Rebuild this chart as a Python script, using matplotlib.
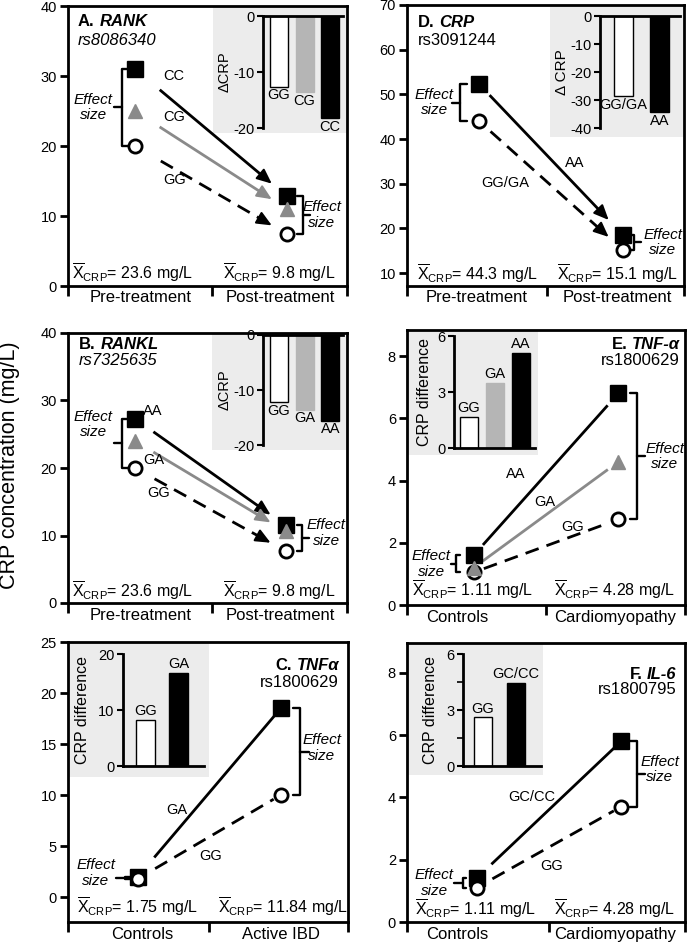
import numpy as np
import matplotlib
matplotlib.use('Agg')
import matplotlib.pyplot as plt
from matplotlib.patches import Rectangle

plt.rcParams['font.family'] = ['Liberation Sans', 'DejaVu Sans']
plt.rcParams['mathtext.fontset'] = 'custom'
plt.rcParams['mathtext.rm'] = 'Liberation Sans'
plt.rcParams['mathtext.it'] = 'Liberation Sans:italic'
plt.rcParams['mathtext.bf'] = 'Liberation Sans:bold'
plt.rcParams['axes.unicode_minus'] = False

W, H = 693, 946

# ---------------- data ----------------
# A. RANK rs8086340
A_groups = ['CC', 'CG', 'GG']
A_pre = [31.0, 25.0, 20.0]
A_post = [12.8, 11.0, 7.4]
A_bar_groups = ['GG', 'CG', 'CC']
A_bar_vals = [-12.6, -13.6, -18.3]
A_means = ['23.6', '9.8']

# B. RANKL rs7325635
B_groups = ['AA', 'GA', 'GG']
B_pre = [27.3, 24.0, 20.0]
B_post = [11.5, 10.6, 7.7]
B_bar_groups = ['GG', 'GA', 'AA']
B_bar_vals = [-12.2, -13.6, -15.6]
B_means = ['23.6', '9.8']

# D. CRP rs3091244
D_groups = ['AA', 'GG/GA']
D_pre = [52.3, 44.0]
D_post = [18.5, 15.2]
D_bar_groups = ['GG/GA', 'AA']
D_bar_vals = [-28.6, -34.3]
D_means = ['44.3', '15.1']

# E. TNF-a rs1800629 (cardiomyopathy)
E_groups = ['AA', 'GA', 'GG']
E_ctrl = [1.6, 1.2, 1.05]
E_case = [6.8, 4.6, 2.75]
E_bar_groups = ['GG', 'GA', 'AA']
E_bar_vals = [1.66, 3.48, 5.08]
E_means = ['1.11', '4.28']

# C. TNFa rs1800629 (IBD)
C_groups = ['GA', 'GG']
C_ctrl = [2.0, 1.8]
C_case = [18.5, 10.0]
C_bar_groups = ['GG', 'GA']
C_bar_vals = [8.2, 16.6]
C_means = ['1.75', '11.84']

# F. IL-6 rs1800795
F_groups = ['GC/CC', 'GG']
F_ctrl = [1.4, 1.1]
F_case = [5.8, 3.7]
F_bar_groups = ['GG', 'GC/CC']
F_bar_vals = [2.6, 4.45]
F_means = ['1.11', '4.28']

treat_cats = ['Pre-treatment', 'Post-treatment']
cardio_cats = ['Controls', 'Cardiomyopathy']
ibd_cats = ['Controls', 'Active IBD']

GRAY = '#8a8a8a'
LIGHT = '#b5b5b5'
BG = '#ececec'

fig = plt.figure(figsize=(W / 100, H / 100), dpi=100)


def styles(n):
    top = dict(marker='s', mfc='black', mec='black', ms=11, mew=1, color='black', ls='-', z=3)
    mid = dict(marker='^', mfc=GRAY, mec=GRAY, ms=10, mew=1, color=GRAY, ls='-', z=5)
    low = dict(marker='o', mfc='white', mec='black', ms=9.5, mew=2, color='black', ls=(0, (5, 3)), z=4)
    return [top, mid, low] if n == 3 else [top, low]


def main_axes(px, ylim, yticks, div, cats, cat_x):
    l, t, r, b = px
    ax = fig.add_axes([l / W, 1 - b / H, (r - l) / W, (b - t) / H])
    ax.set_xlim(0, 1)
    ax.set_ylim(*ylim)
    ax.set_yticks(yticks)
    ax.set_xticks([0, div, 1])
    ax.set_xticklabels([])
    for s in ax.spines.values():
        s.set_linewidth(2)
    ax.tick_params(axis='y', length=6, width=2, labelsize=10.5, pad=2)
    ax.tick_params(axis='x', length=7, width=2)
    for c, x in zip(cats, cat_x):
        ax.text(x, -12 / (b - t), c, transform=ax.transAxes, ha='center',
                va='center', fontsize=12)
    return ax


def trends(ax, xa, xb, ya_list, yb_list, f0, f1, arrow):
    sts = styles(len(ya_list))
    for ya, yb, st in zip(ya_list, yb_list, sts):
        dx, dy = xb - xa, yb - ya
        if arrow:
            ax.plot([xa + f0 * dx, xa + (f1 - 0.04) * dx], [ya + f0 * dy, ya + (f1 - 0.04) * dy],
                    color=st['color'], ls=st['ls'], lw=2, zorder=2)
            ax.annotate('', xy=(xa + f1 * dx, ya + f1 * dy),
                        xytext=(xa + (f1 - 0.07) * dx, ya + (f1 - 0.07) * dy),
                        arrowprops=dict(arrowstyle='-|>,head_length=0.75,head_width=0.33',
                                        color=st['color'], lw=1.5, shrinkA=0, shrinkB=0,
                                        mutation_scale=12), zorder=2)
        else:
            ax.plot([xa + f0 * dx, xa + f1 * dx], [ya + f0 * dy, ya + f1 * dy],
                    color=st['color'], ls=st['ls'], lw=2, zorder=2)
    for ya, yb, st in zip(ya_list, yb_list, sts):
        ax.plot([xa, xb], [ya, yb], ls='none', marker=st['marker'], mfc=st['mfc'],
                mec=st['mec'], ms=st['ms'], mew=st['mew'], zorder=st['z'], clip_on=False)


def glabels(ax, groups, pos, ha='left'):
    for g, (x, y) in zip(groups, pos):
        ax.text(x, y, g, ha=ha, va='center', fontsize=10.5,
                transform=ax.get_yaxis_transform(), zorder=6)


def bracket(ax, xb, y1, y2, d, nub, tx, dy=0.0):
    tr = ax.get_yaxis_transform()
    ax.plot([xb + d, xb, xb, xb + d], [y1, y1, y2, y2], transform=tr, color='black',
            lw=1.7, solid_joinstyle='round', solid_capstyle='round', zorder=2)
    ym = (y1 + y2) / 2
    ax.plot([xb, xb - np.sign(d) * nub], [ym, ym], transform=tr, color='black',
            lw=1.7, solid_capstyle='round', zorder=2)
    ax.text(tx, ym + dy, 'Effect\nsize', transform=tr, ha='center', va='center',
            style='italic', fontsize=11, linespacing=1.15)


def means(ax, vals, xs, y):
    for v, x in zip(vals, xs):
        ax.text(x, y, r'$\overline{\mathrm{X}}_{\mathrm{CRP}}$= ' + v + ' mg/L',
                transform=ax.transAxes, fontsize=11.5, va='center', ha='left')


def title_left(ax, x, y, y2, letter, gene, rs, rs_style):
    t1 = ax.text(x, y, letter, transform=ax.transAxes, fontsize=12,
                 fontweight='bold', va='top', ha='left')
    ax.annotate(gene, xy=(1, 1), xycoords=t1, xytext=(3.5, 0), textcoords='offset points',
                fontsize=12, fontweight='bold', style='italic', va='top', ha='left')
    ax.text(x, y2, rs, transform=ax.transAxes, fontsize=12, style=rs_style,
            va='top', ha='left')


def title_right(ax, x, y, y2, letter, gene, rs):
    t2 = ax.text(x, y, gene, transform=ax.transAxes, fontsize=12, fontweight='bold',
                 style='italic', va='top', ha='right')
    ax.annotate(letter, xy=(0, 1), xycoords=t2, xytext=(-3.5, 0), textcoords='offset points',
                fontsize=12, fontweight='bold', va='top', ha='right')
    ax.text(x, y2, rs, transform=ax.transAxes, fontsize=12, va='top', ha='right')


def inset(ax, panel, bg, box, labels, vals, ylim, yticks, xlim, width, ylabel,
          ylabel_size, label_x, minor=None):
    l, t, r, b = panel
    bl, bt, br, bb = bg
    ax.add_patch(Rectangle(((bl - l) / (r - l), (b - bb) / (b - t)),
                           (br - bl) / (r - l), (bb - bt) / (b - t),
                           transform=ax.transAxes, facecolor=BG, edgecolor='none',
                           zorder=0.5))
    il, it, ir, ib = box
    iax = fig.add_axes([il / W, 1 - ib / H, (ir - il) / W, (ib - it) / H])
    iax.set_facecolor('none')
    n = len(vals)
    faces = ['white', LIGHT, 'black'] if n == 3 else ['white', 'black']
    edges = ['black', LIGHT, 'black'] if n == 3 else ['black', 'black']
    iax.bar(range(n), vals, width=width, color=faces, edgecolor=edges, linewidth=1)
    iax.set_xlim(*xlim)
    iax.set_ylim(*ylim)
    iax.set_yticks(yticks)
    if minor is not None:
        iax.set_yticks(minor, minor=True)
    iax.set_xticks([])
    neg = vals[0] < 0
    iax.spines['right'].set_visible(False)
    iax.spines['bottom' if neg else 'top'].set_visible(False)
    for s in ['left', 'top' if neg else 'bottom']:
        iax.spines[s].set_linewidth(2)
    iax.tick_params(axis='y', which='major', length=4.5, width=1.5, labelsize=10.5, pad=1.5)
    iax.tick_params(axis='y', which='minor', length=4, width=1.2)
    span = ylim[1] - ylim[0]
    for i, (g, v) in enumerate(zip(labels, vals)):
        if neg:
            iax.text(i, v - 0.015 * span, g, ha='center', va='top', fontsize=10.5)
        else:
            iax.text(i, v + 0.015 * span, g, ha='center', va='bottom', fontsize=10.5)
    iax.set_ylabel(ylabel, fontsize=ylabel_size)
    iax.yaxis.set_label_coords(label_x, 0.5)
    return iax


# ---------------- A ----------------
PA = (68, 6, 347, 286)
ax = main_axes(PA, (0, 40), np.arange(0, 41, 10), 0.516, treat_cats, (0.26, 0.76))
trends(ax, 0.24, 0.785, A_pre, A_post, 0.17, 0.9, True)
glabels(ax, A_groups, [(0.34, 30.0), (0.34, 24.1), (0.34, 15.1)])
bracket(ax, 0.194, A_pre[0], A_pre[-1], 0.02, 0.03, 0.09)
bracket(ax, 0.842, A_post[0], A_post[-1], -0.02, 0.025, 0.91)
means(ax, A_means, (0.014, 0.556), 0.047)
title_left(ax, 0.036, 0.97, 0.905, 'A.', 'RANK', 'rs8086340', 'italic')
inset(ax, PA, (213, 6, 347, 133), (263, 16, 343, 128), A_bar_groups, A_bar_vals,
      (-20, 0), [0, -10, -20], (-0.63, 2.5), 0.7, 'ΔCRP', 10.5, -0.39)

# ---------------- B ----------------
PB = (68, 333, 347, 603)
ax = main_axes(PB, (0, 40), np.arange(0, 41, 10), 0.516, treat_cats, (0.26, 0.76))
trends(ax, 0.24, 0.78, B_pre, B_post, 0.13, 0.9, True)
glabels(ax, B_groups, [(0.27, 28.4), (0.27, 21.2), (0.285, 16.3)])
bracket(ax, 0.194, B_pre[0], B_pre[-1], 0.02, 0.03, 0.09, 2.8)
bracket(ax, 0.84, B_post[0], B_post[-1], -0.02, 0.025, 0.925, 0.8)
means(ax, B_means, (0.014, 0.556), 0.045)
title_left(ax, 0.04, 0.985, 0.926, 'B.', 'RANKL', 'rs7325635', 'italic')
inset(ax, PB, (212, 333, 347, 450), (263, 335, 343, 445), B_bar_groups, B_bar_vals,
      (-20, 0), [0, -10, -20], (-0.63, 2.5), 0.7, 'ΔCRP', 10.5, -0.39)

# ---------------- D ----------------
PD = (407, 5, 684, 286)
ax = main_axes(PD, (7.1, 70), np.arange(10, 71, 10), 0.505, treat_cats, (0.25, 0.76))
trends(ax, 0.26, 0.78, D_pre, D_post, 0.08, 0.9, True)
glabels(ax, D_groups, [(0.607, 34.7), (0.354, 30.2)], ha='center')
bracket(ax, 0.192, D_pre[0], D_pre[-1], 0.025, 0.03, 0.098)
bracket(ax, 0.819, D_post[0], D_post[-1], -0.02, 0.025, 0.924)
means(ax, D_means, (0.036, 0.54), 0.046)
title_left(ax, 0.04, 0.965, 0.9, 'D.', 'CRP', 'rs3091244', 'normal')
inset(ax, PD, (550, 5, 684, 137), (600, 16, 680, 128), D_bar_groups, D_bar_vals,
      (-40, 0), [0, -10, -20, -30, -40], (-0.64, 1.56), 0.52, 'Δ CRP', 11, -0.39)

# ---------------- E ----------------
PE = (407, 330, 685, 605)
ax = main_axes(PE, (0, 8.84), np.arange(0, 9, 2), 0.5, cardio_cats, (0.18, 0.75))
trends(ax, 0.24, 0.76, E_ctrl, E_case, 0.07, 0.92, False)
glabels(ax, E_groups, [(0.392, 4.2), (0.496, 3.3), (0.594, 2.5)], ha='center')
bracket(ax, 0.178, E_ctrl[0], E_ctrl[-1], 0.014, 0.02, 0.087)
bracket(ax, 0.826, E_case[0], E_case[-1], -0.025, 0.03, 0.928)
means(ax, E_means, (0.018, 0.53), 0.058)
title_right(ax, 0.982, 0.975, 0.916, 'E.', 'TNF-α', 'rs1800629')
inset(ax, PE, (407, 330, 538, 455), (454, 336, 535, 448), E_bar_groups, E_bar_vals,
      (0, 6), [0, 3, 6], (-0.58, 2.54), 0.69, 'CRP difference', 11.5, -0.27)

# ---------------- C ----------------
PC = (68, 642, 348, 922)
ax = main_axes(PC, (-2.45, 25), np.arange(0, 26, 5), 0.505, ibd_cats, (0.265, 0.76))
trends(ax, 0.25, 0.76, C_ctrl, C_case, 0.12, 0.95, False)
glabels(ax, C_groups, [(0.39, 8.5), (0.51, 4.0)], ha='center')
bracket(ax, 0.205, C_ctrl[0], C_ctrl[-1], 0.015, 0.035, 0.1, 0.45)
bracket(ax, 0.83, C_case[0], C_case[-1], -0.025, 0.03, 0.907, 0.35)
means(ax, C_means, (0.032, 0.536), 0.054)
title_right(ax, 0.968, 0.943, 0.882, 'C.', 'TNFα', 'rs1800629')
inset(ax, PC, (68, 642, 209, 777), (123, 654, 204, 766), C_bar_groups, C_bar_vals,
      (0, 20), [0, 10, 20], (-0.68, 1.77), 0.55, 'CRP difference', 11.5, -0.41)

# ---------------- F ----------------
PF = (407, 643, 685, 922)
ax = main_axes(PF, (0, 8.96), np.arange(0, 9, 2), 0.51, cardio_cats, (0.18, 0.75))
trends(ax, 0.25, 0.77, F_ctrl, F_case, 0.11, 0.95, False)
glabels(ax, F_groups, [(0.45, 4.0), (0.52, 1.8)], ha='center')
bracket(ax, 0.2, F_ctrl[0], F_ctrl[-1], 0.012, 0.03, 0.098)
bracket(ax, 0.826, F_case[0], F_case[-1], -0.025, 0.03, 0.91, 0.15)
means(ax, F_means, (0.03, 0.53), 0.05)
title_right(ax, 0.97, 0.914, 0.86, 'F.', 'IL-6', 'rs1800795')
inset(ax, PF, (407, 643, 543, 775), (463, 654, 541, 766), F_bar_groups, F_bar_vals,
      (0, 6), [0, 3, 6], (-0.6, 1.76), 0.55, 'CRP difference', 11.5, -0.32,
      minor=[1.5, 4.5])

fig.text(10 / W, 1 - 465 / H, 'CRP concentration (mg/L)', rotation=90,
         ha='center', va='center', fontsize=15.5)

fig.savefig('out.png', dpi=100)
